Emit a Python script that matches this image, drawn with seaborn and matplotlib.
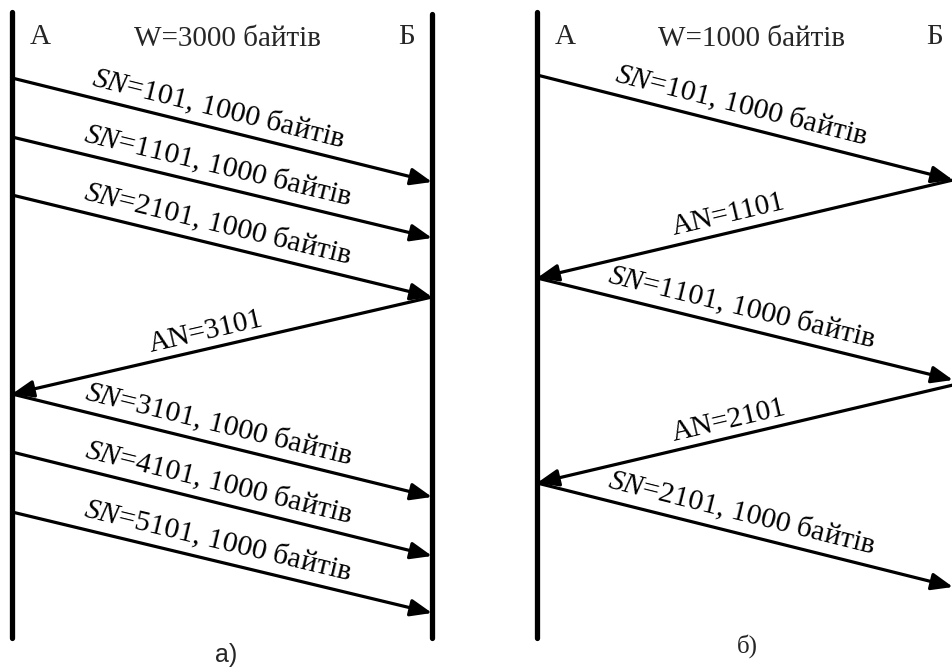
import numpy as np
import seaborn as sns
import matplotlib.pyplot as plt

# --- data: time of send / arrival for every segment (time goes down) ---
# a) window W=3000 bytes
sn_a = [101, 1101, 2101, 3101, 4101, 5101]
send_a = [78, 137, 195, 394, 452, 512]
arrive_a = [182, 238, 297, 497, 556, 613]
an_a = [3101]
ack_send_a = [297]
ack_arrive_a = [394]

# b) window W=1000 bytes
sn_b = [101, 1101, 2101]
send_b = [75, 278, 483]
arrive_b = [180, 380, 587]
an_b = [1101, 2101]
ack_send_b = [180, 385]
ack_arrive_b = [278, 483]

seg_bytes = 1000
windows = [3000, 1000]
panel_names = ["а)", "б)"]

sns.set_theme(style="white")
plt.rcParams['font.family'] = ['Liberation Serif', 'DejaVu Serif']
plt.rcParams['mathtext.fontset'] = 'custom'
plt.rcParams['mathtext.it'] = 'Liberation Serif:italic'
plt.rcParams['mathtext.rm'] = 'Liberation Serif'

fig = plt.figure(figsize=(9.52, 6.68), dpi=100)
ax = fig.add_axes([0, 0, 1, 1])
ax.set_xlim(0, 952)
ax.set_ylim(668, 0)
ax.axis('off')

# x of lifelines A and B for each panel
panels = [
    dict(xa=12, xb=432, sn=sn_a, send=send_a, arr=arrive_a,
         an=an_a, asend=ack_send_a, aarr=ack_arrive_a, tip=432),
    dict(xa=537, xb=957, sn=sn_b, send=send_b, arr=arrive_b,
         an=an_b, asend=ack_send_b, aarr=ack_arrive_b, tip=953),
]

arrow_kw = dict(arrowstyle='-|>,head_length=0.65,head_width=0.26',
                mutation_scale=20, lw=2.3, color='black',
                shrinkA=0, shrinkB=0)


def label_on(x1, y1, x2, y2, txt, t=0.48, off=12, size=21.5):
    # place the text above the arrow, rotated along it
    if x1 > x2:
        x1, y1, x2, y2 = x2, y2, x1, y1
    ang = np.degrees(np.arctan2(-(y2 - y1), x2 - x1))
    cx = x1 + t * (x2 - x1)
    cy = y1 + t * (y2 - y1)
    r = np.radians(ang)
    cx -= off * np.sin(r)
    cy -= off * np.cos(r)
    ax.text(cx, cy, txt, rotation=ang, rotation_mode='anchor',
            ha='center', va='baseline', fontsize=size, color='black')


for i, p in enumerate(panels):
    xa, xb = p['xa'], p['xb']
    ax.plot([xa, xa], [12, 638], color='black', lw=3.8, solid_capstyle='round')
    ax.plot([xb, xb], [14, 638], color='black', lw=3.8, solid_capstyle='round')
    ax.text(xa + 18, 44, "А", fontsize=21, ha='left', va='baseline')
    ax.text(xa + 215, 46, f"W={windows[i]} байтів", fontsize=21,
            ha='center', va='baseline')
    ax.text(xa + 386 if i == 0 else 926, 44, "Б", fontsize=21,
            ha='left', va='baseline')

    for sn, s, a in zip(p['sn'], p['send'], p['arr']):
        ax.annotate("", xy=(p['tip'], a), xytext=(xa, s), arrowprops=arrow_kw,
                    annotation_clip=False)
        label_on(xa, s, p['tip'], a, f"$SN$={sn}, {seg_bytes} байтів")
    for an, s, a in zip(p['an'], p['asend'], p['aarr']):
        ax.annotate("", xy=(xa, a), xytext=(p['tip'], s), arrowprops=arrow_kw,
                    annotation_clip=False)
        label_on(p['tip'], s, xa, a, f"AN={an}", t=0.47, off=10, size=21)

ax.text(226, 662, panel_names[0], fontsize=18, ha='center', va='baseline',
        family=['Liberation Sans Narrow', 'Liberation Sans'])
ax.text(747, 653, panel_names[1], fontsize=18, ha='center', va='baseline')

fig.savefig("out.png", dpi=100)
